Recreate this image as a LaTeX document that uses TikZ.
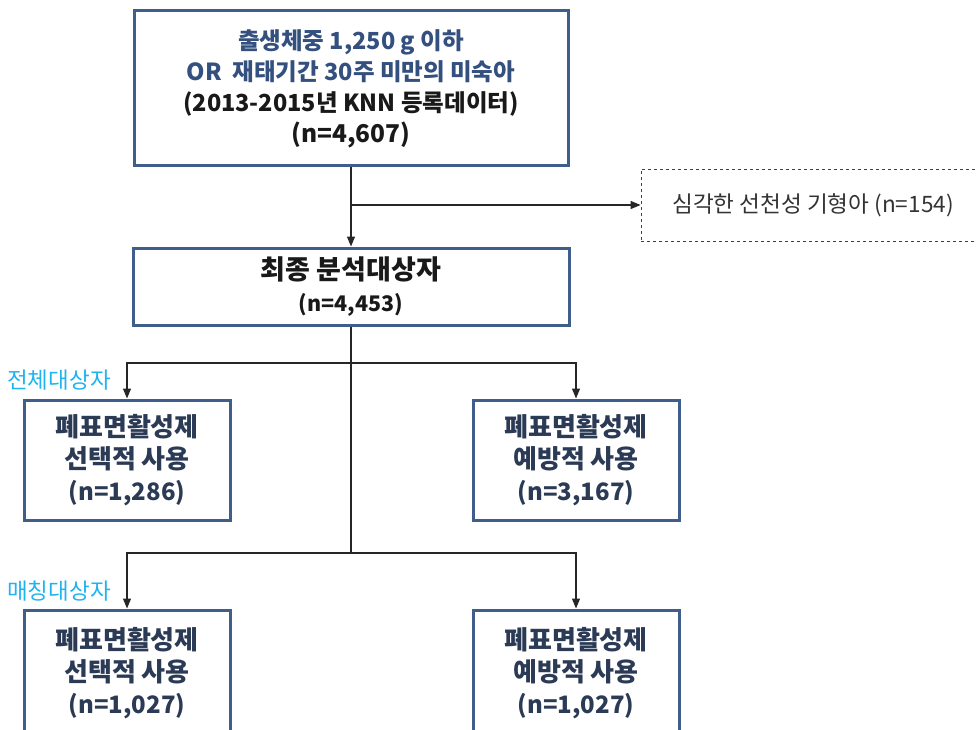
\documentclass[tikz,border=0pt]{standalone}
\usepackage{fontspec}
\setmainfont{Noto Sans CJK KR}
\usetikzlibrary{arrows.meta}
\definecolor{boxblue}{HTML}{3F5E8C}
\definecolor{txtblue}{HTML}{34507E}
\definecolor{txtdark}{HTML}{2B3A55}
\definecolor{lblcyan}{HTML}{1FB3F0}
\newcommand{\fsz}[2]{\fontsize{#1}{#2}\selectfont}
\begin{document}
\begin{tikzpicture}[x=1pt,y=-1pt,
  box/.style={draw=boxblue,line width=3pt,rectangle,inner sep=0pt,align=center},
  lowbox/.style={box,minimum width=206pt,text=txtdark,font=\fsz{26}{32}\bfseries},
  conn/.style={draw=black!85,line width=1.2pt},
  arr/.style={conn,-{Triangle[length=10pt,width=8pt]}},
  lbl/.style={text=lblcyan,inner sep=0pt,font=\fsz{22.5}{22}}]
\useasboundingbox (0,0) rectangle (977,730);
\clip (0,0) rectangle (977,730);
\node[box,minimum width=434pt,minimum height=155pt,text=black!90,
  font=\fsz{23.5}{31}\bfseries] (top) at (351,88.5)
  {\textcolor{txtblue}{출생체중 1,250 g 이하}\\
   \textcolor{txtblue}{OR\ \ 재태기간 30주 미만의 미숙아}\\
   (2013-2015년 KNN 등록데이터)\\
   {\fsz{24.5}{31}(n=4,607)}};
\node[draw=black!75,dashed,line width=0.8pt,minimum width=344pt,minimum height=72pt,
  inner sep=0pt,text=black!80,font=\fsz{22.6}{24}] (excl) at (813,205)
  {심각한 선천성 기형아 (n=154)};
\node[box,minimum width=436pt,minimum height=77pt,text=black!90,
  font=\fsz{27}{32}\bfseries] (main) at (351,286.5)
  {최종 분석대상자\\{\fsz{21.5}{32}(n=4,453)}};
\node[lowbox,minimum height=120pt] (c) at (127,460) {폐표면활성제\\선택적 사용\\{\fsz{24}{32}(n=1,286)}};
\node[lowbox,minimum height=120pt] (d) at (576,460) {폐표면활성제\\예방적 사용\\{\fsz{24}{32}(n=3,167)}};
\node[lowbox,minimum height=126pt] (e) at (127,673) {폐표면활성제\\선택적 사용\\{\fsz{24}{32}(n=1,027)}};
\node[lowbox,minimum height=126pt] (f) at (576,673) {폐표면활성제\\예방적 사용\\{\fsz{24}{32}(n=1,027)}};
\node[lbl] (l1) at (59,380) {전체대상자};
\node[lbl] (l2) at (59,591) {매칭대상자};
\coordinate (s1) at (351,205);
\coordinate (j1) at (351,363);
\coordinate (j2) at (351,553);
\draw[arr] (top.south) -- (main.north);
\draw[arr] (s1) -- (excl.west);
\draw[conn] (main.south) -- (j2);
\draw[arr] (j1) -| (c.north);
\draw[arr] (j1) -| (d.north);
\draw[arr] (j2) -| (e.north);
\draw[arr] (j2) -| (f.north);
\end{tikzpicture}
\end{document}
